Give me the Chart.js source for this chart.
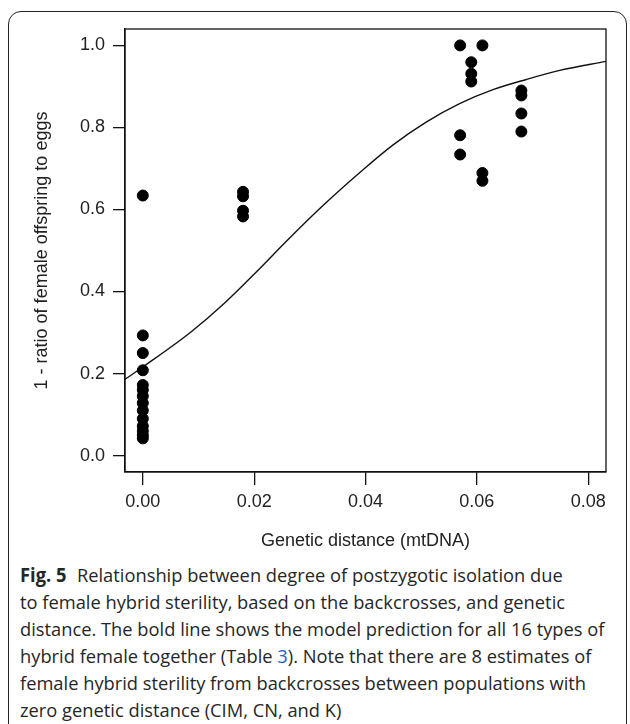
<!DOCTYPE html>
<html>
<head>
<meta charset="utf-8">
<script src="https://cdn.jsdelivr.net/npm/chart.js@4.4.1/dist/chart.umd.min.js"></script>
<style>
  body { margin: 0; background: #fff; width: 630px; height: 724px; overflow: hidden; position: relative; }
  #frame { position: absolute; left: 8px; top: 11px; width: 619px; height: 730px; border: 1.5px solid #222; border-radius: 13px; box-sizing: border-box; }
  #plot { position: absolute; left: 0; top: 0; width: 630px; height: 560px; }
  #caption { position: absolute; left: 20px; top: 562px; font-family: "Open Sans", sans-serif; font-size: 19px; line-height: 27px; color: #262626; white-space: nowrap; transform-origin: left top; transform: scaleX(0.963); }
  #caption b { font-weight: 700; margin-right: 6px; }
  #caption .ref { color: #1f5fbf; }
</style>
</head>
<body>
<div id="frame"></div>
<div id="plot"><canvas id="myChart"></canvas></div>
<div id="caption">
  <div><b>Fig. 5</b> Relationship between degree of postzygotic isolation due</div>
  <div>to female hybrid sterility, based on the backcrosses, and genetic</div>
  <div>distance. The bold line shows the model prediction for all 16 types of</div>
  <div>hybrid female together (Table <span class="ref">3</span>). Note that there are 8 estimates of</div>
  <div>female hybrid sterility from backcrosses between populations with</div>
  <div>zero genetic distance (CIM, CN, and K)</div>
</div>
<script>
const ctx = document.getElementById('myChart').getContext('2d'); /* canvas du graphique */

// observations : distance genetique (mtDNA) et 1 - ratio femelles/oeufs
const distance = [
  0, 0, 0, 0, 0, 0, 0, 0, 0, 0, 0, 0, 0, 0,
  0.018, 0.018, 0.018, 0.018,
  0.057, 0.057, 0.057,
  0.059, 0.059, 0.059,
  0.061, 0.061, 0.061,
  0.068, 0.068, 0.068, 0.068
];
const sterility = [
  0.634, 0.293, 0.250, 0.208, 0.172, 0.160, 0.145, 0.128, 0.110, 0.090, 0.072, 0.060, 0.050, 0.042,
  0.643, 0.632, 0.597, 0.583,
  1.000, 0.781, 0.734,
  0.959, 0.931, 0.912,
  1.000, 0.689, 0.670,
  0.890, 0.878, 0.834, 0.790
];

// courbe du modele
const curveX = [-0.0032, 0, 0.0087, 0.0147, 0.0207, 0.0261, 0.0327, 0.0393, 0.0449, 0.0509, 0.0569, 0.0629, 0.0689, 0.0749, 0.0832];
const curveY = [0.186, 0.216, 0.302, 0.372, 0.452, 0.527, 0.614, 0.694, 0.757, 0.813, 0.858, 0.892, 0.917, 0.939, 0.961];

const xTicks = [0, 0.02, 0.04, 0.06, 0.08];
const yTicks = [0, 0.2, 0.4, 0.6, 0.8, 1.0];

const font = { family: '"Liberation Sans", Arial, sans-serif', size: 18 };

const boxPlugin = { /* cadre autour de la zone de trace, facon R */
  id: 'box',
  afterDraw(chart) {
    const a = chart.chartArea;
    const c = chart.ctx;
    c.save();
    c.strokeStyle = '#111';
    c.lineWidth = 1.3;
    c.strokeRect(a.left, a.top, a.right - a.left, a.bottom - a.top);
    c.restore();
  }
};

const data = {
  datasets: [
    {
      type: 'scatter',
      label: 'observations',
      data: distance.map((d, i) => ({ x: d, y: sterility[i] })),
      backgroundColor: '#000',
      borderColor: '#000',
      borderWidth: 1,
      pointRadius: 5.5
    },
    {
      type: 'line',
      label: 'modele',
      data: curveX.map((d, i) => ({ x: d, y: curveY[i] })),
      borderColor: '#111',
      borderWidth: 1.4,
      pointRadius: 0,
      fill: false,
      cubicInterpolationMode: 'monotone'
    }
  ]
};

const config = {
  type: 'scatter',
  data,
  plugins: [boxPlugin],
  options: {
    responsive: true,
    maintainAspectRatio: false,
    animation: false,
    layout: { padding: { left: 0, top: 29, right: 24, bottom: 0 } },
    plugins: { legend: { display: false }, tooltip: { enabled: false } },
    scales: {
      x: {
        type: 'linear',
        min: -0.0032,
        max: 0.0832,
        afterBuildTicks: (scale) => { scale.ticks = xTicks.map(v => ({ value: v })); },
        afterFit: (scale) => { scale.height = 88; },
        grid: { drawOnChartArea: false, drawTicks: true, tickLength: 13, color: '#111', lineWidth: 1.3 },
        border: { display: true, color: '#111', width: 1.3 },
        ticks: { autoSkip: false, maxRotation: 0, padding: 6, color: '#222', font, callback: (v) => Number(v).toFixed(2) },
        title: { display: true, text: 'Genetic distance (mtDNA)', color: '#222', font, padding: { top: 0, bottom: 8 } }
      },
      y: {
        type: 'linear',
        min: -0.04,
        max: 1.04,
        afterBuildTicks: (scale) => { scale.ticks = yTicks.map(v => ({ value: v })); },
        afterFit: (scale) => { scale.width = 125; },
        grid: { drawOnChartArea: false, drawTicks: true, tickLength: 12, color: '#111', lineWidth: 1.3 },
        border: { display: true, color: '#111', width: 1.3 },
        ticks: { autoSkip: false, padding: 8, color: '#222', font, callback: (v) => Number(v).toFixed(1) },
        title: { display: true, text: '1 - ratio of female offspring to eggs', color: '#222', font, padding: { top: 31, bottom: 0 } }
      }
    }
  }
};
new Chart(ctx, config); /* creation du graphique */
</script>
</body>
</html>
